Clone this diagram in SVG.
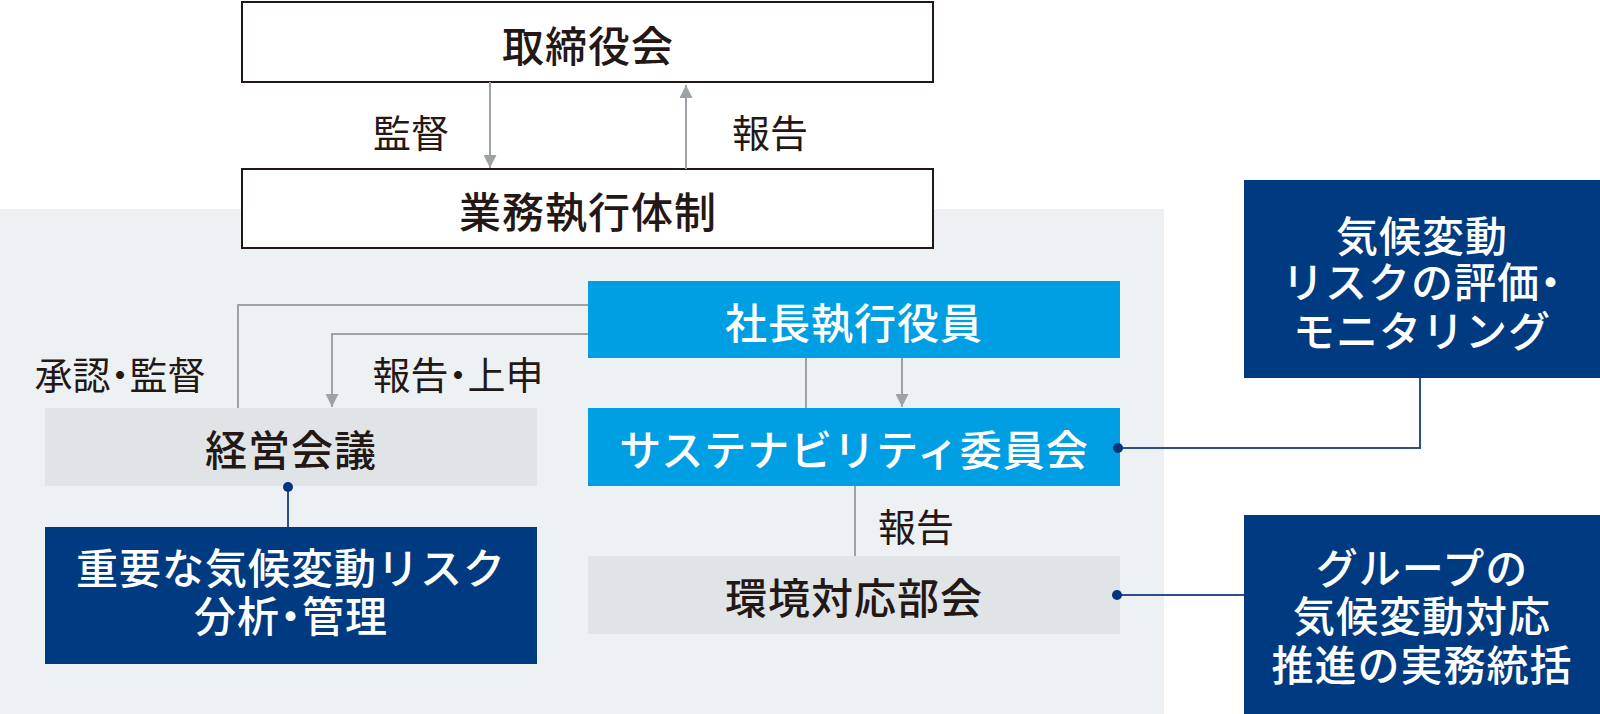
<svg xmlns="http://www.w3.org/2000/svg" width="1600" height="714" viewBox="0 0 1600 714">
<defs>
<style>
text{font-family:"Noto Sans CJK JP","Noto Sans CJK SC",sans-serif;text-anchor:middle;dominant-baseline:central}
.node{font-size:42px;font-weight:500;letter-spacing:1px}
.lbl{font-size:38px;font-weight:400;fill:#231815}
.dk{fill:#231815}
.wt{fill:#ffffff}
.p{font-feature-settings:"palt"}
.white{fill:#ffffff;stroke:#231815;stroke-width:2}
.blue{fill:#009fe3}
.navy{fill:#003a80}
.gray{fill:#e1e4e7}
.conn{fill:none;stroke:#9ca2a6;stroke-width:2}
.nconn{fill:none;stroke:#2a4f8c;stroke-width:2}
.dot{fill:#003580}
</style>
<marker id="arr" viewBox="0 0 10 10" refX="10" refY="5" markerWidth="13" markerHeight="13" markerUnits="userSpaceOnUse" orient="auto">
<path d="M0,0 L10,5 L0,10 z" fill="#9ca2a6"/>
</marker>
</defs>
<rect x="0" y="209" width="1164" height="505" fill="#eef1f3"/>
<g id="board">
<rect class="white" x="242" y="2" width="691" height="80"/>
<text class="node dk" x="588" y="43">取締役会</text>
</g>
<g id="execution">
<rect class="white" x="242" y="169" width="691" height="79"/>
<text class="node dk" x="588" y="209">業務執行体制</text>
</g>
<g id="president">
<rect class="blue" x="588" y="281" width="532" height="77"/>
<text class="node wt" x="854" y="320">社長執行役員</text>
</g>
<g id="sustainability">
<rect class="blue" x="588" y="408" width="532" height="78"/>
<text class="node wt" x="854" y="447">サステナビリティ委員会</text>
</g>
<g id="environment">
<rect class="gray" x="588" y="556" width="532" height="78"/>
<text class="node dk" x="854" y="595">環境対応部会</text>
</g>
<g id="management">
<rect class="gray" x="45" y="408" width="492" height="78"/>
<text class="node dk" x="291" y="447">経営会議</text>
</g>
<g id="risk-analysis">
<rect class="navy" x="45" y="527" width="492" height="137"/>
<text class="node wt" x="291" y="565">重要な気候変動リスク</text>
<text class="node wt" x="291" y="613">分析<tspan class="p">・</tspan>管理</text>
</g>
<g id="risk-monitoring">
<rect class="navy" x="1244" y="180" width="356" height="198"/>
<text class="node wt" x="1422" y="233">気候変動</text>
<text class="node wt" x="1422" y="279">リスクの評価<tspan class="p">・</tspan></text>
<text class="node wt" x="1422" y="328">モニタリング</text>
</g>
<g id="group-promotion">
<rect class="navy" x="1244" y="515" width="356" height="199"/>
<text class="node wt" x="1422" y="565">グループの</text>
<text class="node wt" x="1422" y="613">気候変動対応</text>
<text class="node wt" x="1422" y="662">推進の実務統括</text>
</g>
<g id="connectors">
<line class="conn" x1="490" y1="82" x2="490" y2="168" marker-end="url(#arr)"/>
<line class="conn" x1="686" y1="169" x2="686" y2="85" marker-end="url(#arr)"/>
<polyline class="conn" points="588,305 238,305 238,408"/>
<polyline class="conn" points="588,334 332,334 332,407" marker-end="url(#arr)"/>
<line class="conn" x1="806" y1="358" x2="806" y2="408"/>
<line class="conn" x1="902" y1="358" x2="902" y2="407" marker-end="url(#arr)"/>
<line class="conn" x1="855" y1="486" x2="855" y2="556"/>
<line class="nconn" x1="288" y1="487" x2="288" y2="527"/>
<circle class="dot" cx="288" cy="487" r="5"/>
<polyline class="nconn" points="1118,448 1420,448 1420,378"/>
<circle class="dot" cx="1118" cy="448" r="5"/>
<line class="nconn" x1="1117" y1="595" x2="1244" y2="595"/>
<circle class="dot" cx="1117" cy="595" r="5"/>
<text class="lbl" x="411" y="130">監督</text>
<text class="lbl" x="770" y="130">報告</text>
<text class="lbl" x="120" y="372">承認<tspan class="p">・</tspan>監督</text>
<text class="lbl" x="458" y="372">報告<tspan class="p">・</tspan>上申</text>
<text class="lbl" x="916" y="524">報告</text>
</g>
</svg>
